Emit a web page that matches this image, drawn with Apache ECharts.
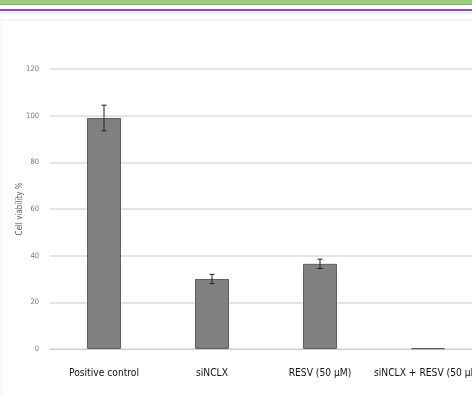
<!DOCTYPE html>
<html><head><meta charset="utf-8">
<script src="https://cdn.jsdelivr.net/npm/echarts@6/dist/echarts.min.js"></script>
<style>html,body{margin:0;padding:0;background:#fff}#c{width:472px;height:395px}</style>
</head><body><div id="c"></div>
<script>
const categories = ['Positive control', 'siNCLX', 'RESV (50 µM)', 'siNCLX + RESV (50 µM)'];
const values = [99, 30, 36.5, 0.3];
const errors = [5.5, 2, 2, 0];
const yTicks = [0, 20, 40, 60, 80, 100, 120];

const chart = echarts.init(document.getElementById('c'));
chart.setOption({
  animation: false,
  backgroundColor: '#fff',
  graphic: [
    {type:'rect', shape:{x:0,y:0,width:472,height:5}, style:{fill:'#9fcb7f'}, silent:true},
    {type:'rect', shape:{x:0,y:4,width:472,height:1}, style:{fill:'#7db35a'}, silent:true},
    {type:'rect', shape:{x:0,y:9,width:472,height:2}, style:{fill:'#8a4fc0'}, silent:true},
    {type:'rect', shape:{x:0,y:11,width:472,height:3}, style:{fill:'#eeeeee'}, silent:true},
    {type:'rect', shape:{x:1,y:20,width:480,height:380}, style:{fill:'none', stroke:'#f0f0f0', lineWidth:1}, silent:true}
  ],
  grid: {left: 50, top: 69, right: -10, height: 280, containLabel: false, outerBoundsMode: 'none'},
  xAxis: {
    type: 'category',
    data: categories,
    axisLine: {show: true, lineStyle: {color: '#d0d0d0', width: 1}},
    axisTick: {show: false},
    axisLabel: {interval: 0, hideOverlap: false, color: '#111', fontSize: 10.2, fontFamily: 'DejaVu Sans Condensed, sans-serif', margin: 19}
  },
  yAxis: {
    type: 'value',
    min: 0, max: 120, interval: 20,
    name: 'Cell viability %',
    nameLocation: 'middle',
    nameGap: 26,
    nameMoveOverlap: false,
    nameRotate: 90,
    nameTextStyle: {color: '#555', fontSize: 8, fontFamily: 'DejaVu Sans Condensed, sans-serif'},
    axisLine: {show: false},
    axisTick: {show: false},
    axisLabel: {color: '#777', fontSize: 7.5, fontFamily: 'DejaVu Sans Condensed, sans-serif', margin: 11,
      formatter: v => yTicks.includes(v) ? String(v) : ''},
    splitLine: {lineStyle: {color: '#dcdcdc', width: 1.5}}
  },
  series: [
    {
      type: 'bar',
      data: values,
      barWidth: 34,
      itemStyle: {color: '#808080', borderColor: '#606060', borderWidth: 1}
    },
    {
      type: 'custom',
      data: values.map((v, i) => [i, v, errors[i]]),
      z: 10,
      renderItem: function (params, api) {
        const i = api.value(0), v = api.value(1), e = api.value(2);
        if (!e) return null;
        const top = api.coord([i, v + e]);
        const bot = api.coord([i, v - e]);
        const hw = 2.5;
        const st = {stroke: '#222', lineWidth: 1};
        return {type: 'group', children: [
          {type: 'line', shape: {x1: top[0], y1: top[1], x2: bot[0], y2: bot[1]}, style: st},
          {type: 'line', shape: {x1: top[0]-hw, y1: top[1], x2: top[0]+hw, y2: top[1]}, style: st},
          {type: 'line', shape: {x1: bot[0]-hw, y1: bot[1], x2: bot[0]+hw, y2: bot[1]}, style: st}
        ]};
      }
    }
  ]
});
</script>
</body></html>
